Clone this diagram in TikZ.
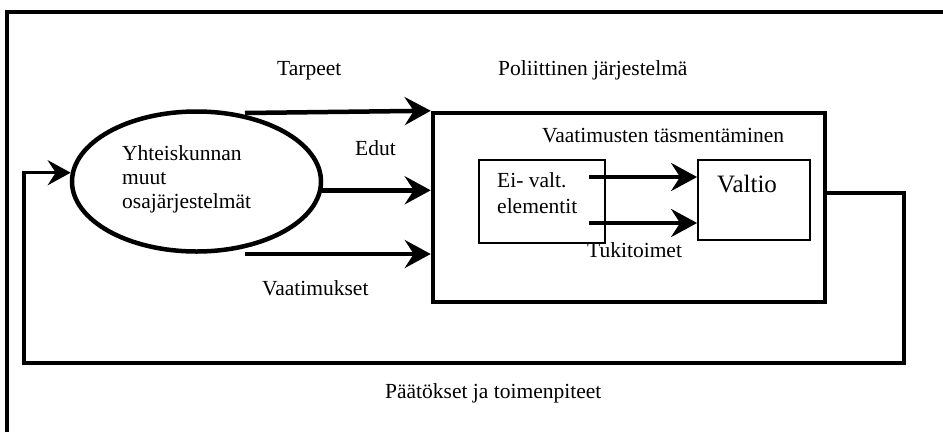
\documentclass[tikz,border=0pt]{standalone}
\usepackage{fontspec}
\setmainfont{Liberation Serif}
\usetikzlibrary{arrows.meta,shapes.geometric}
\begin{document}
\begin{tikzpicture}[x=1pt,y=-1pt,
  lbl/.style={inner sep=0pt,anchor=base west,font=\fontsize{21.5}{24}\selectfont},
  thickbox/.style={draw,line width=4.5pt,inner sep=0pt},
  thinbox/.style={draw,line width=1.8pt,inner sep=0pt},
  flow/.style={line width=4.5pt,-{Stealth[length=26pt,width=28pt,inset=9pt]}},
  loopline/.style={line width=3.5pt,-{Stealth[length=23pt,width=25pt,inset=8pt]}}]
\useasboundingbox (0,0) rectangle (943,432);
% outer frame
\draw[line width=4pt] (7,432) -- (7,12) -- (943,12);
% ellipse for the other subsystems
\node[ellipse,thickbox,minimum width=249pt,minimum height=140pt] (ell) at (196.5,181.5) {};
\node[inner sep=0pt,anchor=west,align=left,font=\fontsize{21.5}{24}\selectfont] (elltext) at (122,179)
  {Yhteiskunnan\\muut\\osajärjestelmät};
% political system
\node[thickbox,minimum width=392pt,minimum height=189pt] (sys) at (629,207.5) {};
\node[thinbox,minimum width=126pt,minimum height=83pt] (ei) at (542,201.5) {};
\node[thinbox,minimum width=112pt,minimum height=80pt] (valtio) at (754,200) {};
% input arrows
\coordinate (tin) at (245,113);
\coordinate (bin) at (245,254);
\draw[flow] (tin) -- (sys.north west);
\draw[flow] (ell.-4) -- (sys.west |- ell.-4);
\draw[flow] (bin) -- (sys.west |- bin);
% inner arrows
\coordinate (a1) at (589,177);
\coordinate (a2) at (589,223);
\draw[flow] (a1) -- (valtio.west |- a1);
\draw[flow] (a2) -- (valtio.west |- a2);
% feedback loop
\coordinate (fb1) at (904,193);
\coordinate (fb2) at (904,363);
\coordinate (fb3) at (24,363);
\draw[loopline] (sys.east |- fb1) -- (fb1) -- (fb2) -- (fb3) -- (fb3 |- ell.176) -- (ell.176);
% labels
\node[lbl] (tarpeet) at (277,75) {Tarpeet};
\node[lbl] (poli) at (498,75) {Poliittinen järjestelmä};
\node[lbl] (edut) at (355,155) {Edut};
\node[lbl] (vt) at (542,142) {Vaatimusten täsmentäminen};
\node[lbl] (ei1) at (497,187) {Ei- valt.};
\node[lbl] (ei2) at (497,213) {elementit};
\node[lbl,font=\fontsize{25}{28}\selectfont] (valtiotext) at (717,192) {Valtio};
\node[lbl] (tuki) at (587,257) {Tukitoimet};
\node[lbl] (vaat) at (262,295) {Vaatimukset};
\node[lbl] (paat) at (385,398) {Päätökset ja toimenpiteet};
\end{tikzpicture}
\end{document}
